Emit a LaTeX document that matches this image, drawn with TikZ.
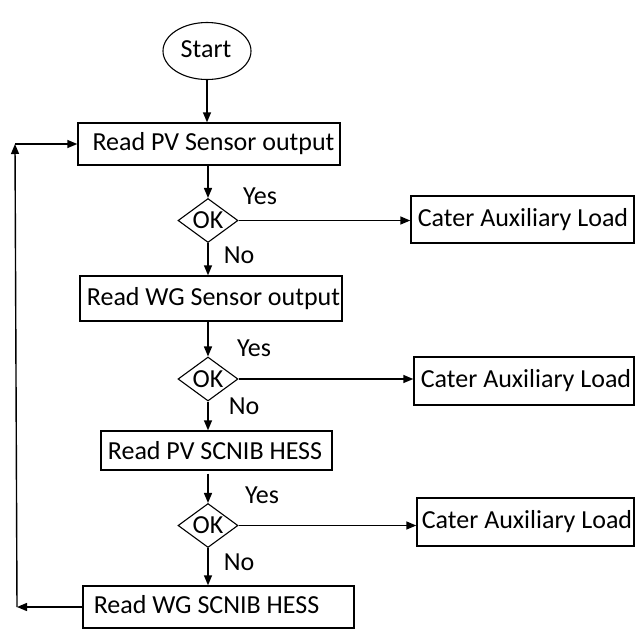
\documentclass[tikz,border=0pt]{standalone}
\usepackage{fontspec}
\setmainfont{Carlito}
\usetikzlibrary{arrows.meta,shapes.geometric}
\begin{document}
\begin{tikzpicture}[x=1pt,y=-1pt,
  txt/.style={font=\fontsize{26}{31}\selectfont,inner sep=0pt},
  box/.style={draw,line width=1.4pt,rectangle,inner sep=0pt},
  startbox/.style={draw,line width=1.1pt,ellipse,inner sep=0pt,minimum width=88pt,minimum height=57pt},
  test/.style={draw,line width=1.1pt,diamond,inner sep=0pt,minimum width=60pt,minimum height=44pt,aspect=1.4,font=\fontsize{26}{31}\selectfont},
  arr/.style={line width=1.4pt,-{Triangle[length=10pt,width=8pt]}}
]
\useasboundingbox (0,0) rectangle (635,630);

% start terminal
\node[startbox] (start) at (207,51) {};
\node[txt] at (206,49) {Start};

% main column of process boxes
\node[box,minimum width=262pt,minimum height=42pt] (b1) at (209,144) {};
\node[txt] at (213.5,144) {Read PV Sensor output};
\node[box,minimum width=262pt,minimum height=45pt] (b2) at (211,298.5) {};
\node[txt] at (213.5,298.5) {Read WG Sensor output};
\node[box,minimum width=231pt,minimum height=39pt] (b3) at (216.5,450.5) {};
\node[txt] at (215,450.5) {Read PV SCNIB HESS};
\node[box,minimum width=271pt,minimum height=42pt] (b4) at (218.5,607) {};
\node[txt] at (206.5,605) {Read WG SCNIB HESS};

% decisions
\node[test] (d1) at (208,220.5) {OK};
\node[test] (d2) at (208,379) {OK};
\node[test] (d3) at (208,525.5) {OK};

% auxiliary load boxes
\node[box,minimum width=223pt,minimum height=47pt] (cA) at (522.5,219.5) {};
\node[txt] at (523,219.5) {Cater Auxiliary Load};
\node[box,minimum width=220pt,minimum height=48pt] (cB) at (524,381) {};
\node[txt] at (526,381) {Cater Auxiliary Load};
\node[box,minimum width=217pt,minimum height=48pt] (cC) at (525.5,522) {};
\node[txt] at (527,522) {Cater Auxiliary Load};

% branch labels
\node[txt] at (260,196) {Yes};
\node[txt] at (239,255) {No};
\node[txt] at (254,348) {Yes};
\node[txt] at (244,406) {No};
\node[txt] at (262,495) {Yes};
\node[txt] at (239,562) {No};

% vertical flow
\draw[arr] (start.south) -- (start.south |- b1.north);
\draw[arr] (b1.south -| d1) -- (d1.north);
\draw[arr] (d1.south) -- (d1.south |- b2.north);
\draw[arr] (b2.south -| d2) -- (d2.north);
\draw[arr] (d2.south) -- (d2.south |- b3.north);
\draw[arr,shorten <=3pt] (b3.south -| d3) -- (d3.north);
\draw[arr] (d3.south) -- (d3.south |- b4.north);

% yes branches
\draw[arr] (d1.east) -- (d1.east -| cA.west);
\draw[arr] (d2.east) -- (d2.east -| cB.west);
\draw[arr] (d3.east) -- (d3.east -| cC.west);

% loop back to the first reading
\coordinate (lb) at (17,607);
\coordinate (lt) at (15,144);
\draw[arr] (b4.west) -- (lb);
\draw[arr] (lb) -- (lt);
\draw[arr] (lt) -- (b1.west);
\end{tikzpicture}
\end{document}
